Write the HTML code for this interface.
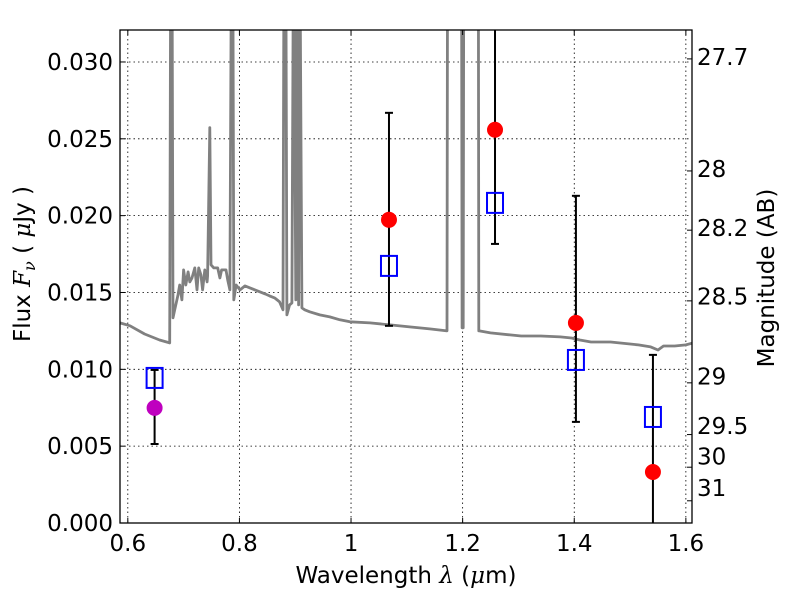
<!DOCTYPE html>
<html><head><meta charset="utf-8"><style>
body{margin:0;background:#fff}
svg text{font-family:"DejaVu Sans","Liberation Sans",sans-serif;fill:#000}
</style></head><body>
<svg id="c" width="800" height="600">
<rect width="800" height="600" fill="#fff"/>
<g id="grid"></g>
<g id="spec"></g>
<g id="pts"></g>
<rect x="120" y="30" width="572" height="493" fill="none" stroke="#000" stroke-width="1.3"/>
<g id="axes"></g>
<text x="406" y="583" font-size="23" text-anchor="middle">Wavelength  <tspan font-style="italic" font-family="DejaVu Serif, serif">λ</tspan> (<tspan font-style="italic" font-family="DejaVu Serif, serif">μ</tspan>m)</text>
<text transform="translate(30,264) rotate(-90)" font-size="23" text-anchor="middle">Flux  <tspan font-style="italic" font-family="DejaVu Serif, serif">F</tspan><tspan font-style="italic" font-size="16" dy="5" font-family="DejaVu Serif, serif">ν</tspan><tspan dy="-5">   ( </tspan><tspan font-style="italic" font-family="DejaVu Serif, serif">μ</tspan>Jy )</text>
<text transform="translate(774,278) rotate(-90)" font-size="23" text-anchor="middle">Magnitude (AB)</text>
</svg>
<script>
const xTicks=[0.6,0.8,1.0,1.2,1.4,1.6];
const xTickLabels=["0.6","0.8","1","1.2","1.4","1.6"];
const yTicks=[0,0.005,0.010,0.015,0.020,0.025,0.030];
const yTickLabels=["0.000","0.005","0.010","0.015","0.020","0.025","0.030"];
const magTicks=[27.7,28,28.2,28.5,29,29.5,30,31];
const magTickLabels=["27.7","28","28.2","28.5","29","29.5","30","31"];
const specLam=[0.586,0.604,0.630,0.657,0.675,0.677,0.679,0.681,0.681,0.684,0.690,0.693,0.697,0.700,0.704,0.708,0.711,0.715,0.720,0.724,0.727,0.731,0.734,0.738,0.742,0.743,0.747,0.749,0.754,0.761,0.765,0.768,0.776,0.779,0.783,0.786,0.788,0.790,0.794,0.801,0.810,0.819,0.828,0.837,0.846,0.854,0.863,0.872,0.878,0.880,0.883,0.885,0.890,0.894,0.897,0.901,0.903,0.906,0.908,0.912,0.917,0.926,0.944,0.962,0.980,0.998,1.034,1.070,1.105,1.141,1.172,1.173,1.174,1.175,1.198,1.199,1.200,1.201,1.202,1.228,1.229,1.230,1.250,1.285,1.305,1.340,1.375,1.395,1.410,1.430,1.465,1.500,1.515,1.537,1.550,1.560,1.580,1.600,1.613];
const specFlux=[0.01302,0.01283,0.01230,0.01191,0.01172,0.04,0.04,0.01335,0.01335,0.01387,0.01484,0.01549,0.01452,0.01647,0.01549,0.01634,0.01569,0.01595,0.01660,0.01517,0.01660,0.01615,0.01517,0.01647,0.01569,0.01608,0.02572,0.01680,0.01660,0.01660,0.01595,0.01647,0.01647,0.01582,0.01517,0.04,0.04,0.01452,0.01549,0.01517,0.01543,0.01530,0.01517,0.01504,0.01491,0.01478,0.01465,0.01439,0.01387,0.04,0.04,0.01354,0.01419,0.01432,0.04,0.01452,0.04,0.01419,0.04,0.01400,0.01387,0.01374,0.01354,0.01341,0.01322,0.01309,0.01302,0.01289,0.01276,0.01263,0.01250,0.04,0.04,0.04,0.04,0.01270,0.04,0.01270,0.04,0.04,0.01250,0.01250,0.01237,0.01224,0.01217,0.01217,0.01211,0.01204,0.01191,0.01178,0.01178,0.01165,0.01159,0.01146,0.01126,0.01152,0.01152,0.01159,0.01172];
const ptLam=[0.648,1.068,1.258,1.403,1.541];
const ptFlux=[0.00749,0.01973,0.02559,0.01302,0.00332];
const ptErrHi=[0.00247,0.00696,0.00743,0.00827,0.00762];
const ptErrLo=[0.00235,0.00690,0.00743,0.00644,0.00762];
const modelFlux=[0.00944,0.01673,0.02083,0.01061,0.0069];
const ptColors=["#bf00bf","#ff0000","#ff0000","#ff0000","#ff0000"];
const NS="http://www.w3.org/2000/svg";
const L=120,R=692,T=30,B=523,x0=0.586,x1=1.611,y0=0,y1=0.03208;
const X=v=>L+(v-x0)/(x1-x0)*(R-L);
const Y=v=>B-(v-y0)/(y1-y0)*(B-T);
const magToFlux=m=>Math.pow(10,(23.9-m)/2.5);
function mk(p,t,a){const e=document.createElementNS(NS,t);for(const k in a)e.setAttribute(k,a[k]);p.appendChild(e);return e;}
const grid=document.getElementById('grid'),axes=document.getElementById('axes');
xTicks.forEach((v,i)=>{const x=X(v);
 let g=mk(grid,'line',{x1:x,x2:x,y1:T,y2:B,stroke:'#000','stroke-width':0.8,'stroke-dasharray':'1.5,3'});
 
 
 mk(axes,'line',{x1:x,x2:x,y1:B,y2:B-5,stroke:'#000'});mk(axes,'line',{x1:x,x2:x,y1:T,y2:T+5,stroke:'#000'});
 let t=mk(axes,'text',{x:x,y:B+28,'font-size':23,'text-anchor':'middle'});t.textContent=xTickLabels[i];
 
 });
yTicks.forEach((v,i)=>{const y=Y(v);
 let g=mk(grid,'line',{x1:L,x2:R,y1:y,y2:y,stroke:'#000','stroke-width':0.8,'stroke-dasharray':'1.5,3'});
 
 
 mk(axes,'line',{x1:L,x2:L+5,y1:y,y2:y,stroke:'#000'});
 let t=mk(axes,'text',{x:L-7,y:y+8,'font-size':23,'text-anchor':'end'});t.textContent=yTickLabels[i];
 
 });
magTicks.forEach((m,i)=>{const y=Y(magToFlux(m));
 mk(axes,'line',{x1:R,x2:R-5,y1:y,y2:y,stroke:'#000'});
 const off=-2-(i>2?(i-2)*2.2:0);
 let t=mk(axes,'text',{x:R+5,y:y+8+off,'font-size':23});t.textContent=magTickLabels[i];
 
 });
const spec=document.getElementById('spec');
mk(spec,'clipPath',{id:'clip'});
mk(document.getElementById('clip'),'rect',{x:L,y:T,width:R-L,height:B-T});
let d=specLam.map((l,i)=>(i?'L':'M')+X(l).toFixed(1)+','+Y(specFlux[i]).toFixed(1)).join('');
let sp=mk(spec,'path',{d:d,fill:'none',stroke:'#808080','stroke-width':2.8,'clip-path':'url(#clip)','stroke-linejoin':'round'});


const pts=document.getElementById('pts');
ptLam.forEach((l,i)=>{const x=X(l);const g=mk(pts,'g',{'clip-path':'url(#clip)'});
 
 
 const ya=Y(ptFlux[i]+ptErrHi[i]),yb=Y(ptFlux[i]-ptErrLo[i]);
 mk(g,'line',{x1:x,x2:x,y1:ya,y2:yb,stroke:'#000','stroke-width':2});
 mk(g,'line',{x1:x-4,x2:x+4,y1:ya,y2:ya,stroke:'#000','stroke-width':2});
 mk(g,'line',{x1:x-4,x2:x+4,y1:yb,y2:yb,stroke:'#000','stroke-width':2});
 mk(g,'rect',{x:x-8,y:Y(modelFlux[i])-10,width:16,height:20,fill:'none',stroke:'#0000ff','stroke-width':2});
 mk(g,'circle',{cx:x,cy:Y(ptFlux[i]),r:8,fill:ptColors[i]});});
</script>
</body></html>
